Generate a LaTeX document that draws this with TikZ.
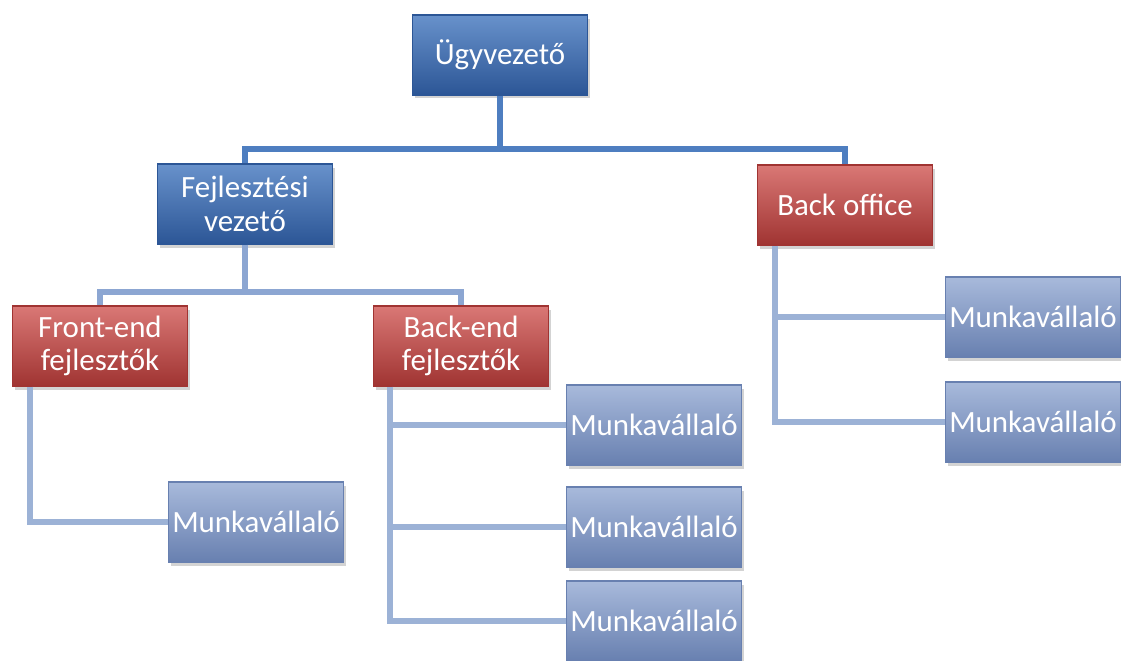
\documentclass[tikz,border=0pt]{standalone}
\usepackage{fontspec}
\setmainfont{Carlito}
\usepackage{xcolor}
\usetikzlibrary{shadows,calc}

\definecolor{ceoblue}{RGB}{66,118,190}
\definecolor{ceodark}{RGB}{44,86,150}
\definecolor{teamred}{RGB}{208,86,83}
\definecolor{teamdark}{RGB}{160,52,50}
\definecolor{staffblue}{RGB}{146,168,210}
\definecolor{staffdark}{RGB}{104,128,176}
\definecolor{lineblue}{RGB}{78,126,192}
\definecolor{linemid}{RGB}{140,166,210}
\definecolor{linelow}{RGB}{156,178,214}

\tikzset{
	box/.style={rectangle, minimum width=3.5cm, minimum height=1.6cm, inner sep=1pt,
		align=center, text=white, font=\fontsize{17.6}{19}\selectfont,
		line width=0.6pt, drop shadow={opacity=0.35, shadow xshift=1.5pt, shadow yshift=-2pt}},
	chief/.style={box, draw=ceodark, top color=ceoblue!80!white, middle color=ceoblue, bottom color=ceodark},
	lead/.style={box, draw=teamdark, top color=teamred!80!white, middle color=teamred, bottom color=teamdark},
	staff/.style={box, draw=staffdark, top color=staffblue!80!white, middle color=staffblue, bottom color=staffdark},
	topline/.style={draw=lineblue, line width=3.4pt},
	midline/.style={draw=linemid, line width=3.4pt},
	sideline/.style={draw=linelow, line width=3.4pt}
}

\begin{document}
\begin{tikzpicture}[x=0.02cm, y=-0.02cm]
		\useasboundingbox (0,0) rectangle (1121,661);
		% level 1
		\node[chief] (ceo) at (500,55) {Ügyvezető};
		% level 2
		\node[chief] (dev) at (245,204) {Fejlesztési\\vezető};
		\node[lead]  (bo)  at (845,205) {Back office};
		% level 3
		\node[lead] (fe) at (100,346) {Front-end\\fejlesztők};
		\node[lead] (be) at (461,346) {Back-end\\fejlesztők};
		% workers
		\node[staff] (few1) at (256,522)  {Munkavállaló};
		\node[staff] (bew1) at (654,425)  {Munkavállaló};
		\node[staff] (bew2) at (654,527)  {Munkavállaló};
		\node[staff] (bew3) at (654,621)  {Munkavállaló};
		\node[staff] (bow1) at (1033,317) {Munkavállaló};
		\node[staff] (bow2) at (1033,422) {Munkavállaló};
		% tree lines
		\draw[topline] (ceo.south) -- ++(0,53) coordinate (tj) -| (dev.north);
		\draw[topline] (tj) -| (bo.north);
		\draw[midline] (dev.south) -- ++(0,47) coordinate (dj) -| (fe.north);
		\draw[midline] (dj) -| (be.north);
		% side lines
		\coordinate (fes) at ([xshift=0.36cm]fe.south west);
		\coordinate (bes) at ([xshift=0.34cm]be.south west);
		\coordinate (bos) at ([xshift=0.36cm]bo.south west);
		\draw[sideline] (fes) |- (few1.west);
		\draw[sideline] (bes) |- (bew3.west);
		\draw[sideline] (bew1.west) -- (bew1.west -| bes);
		\draw[sideline] (bew2.west) -- (bew2.west -| bes);
		\draw[sideline] (bos) |- (bow2.west);
		\draw[sideline] (bow1.west) -- (bow1.west -| bos);
	\end{tikzpicture}
\end{document}
